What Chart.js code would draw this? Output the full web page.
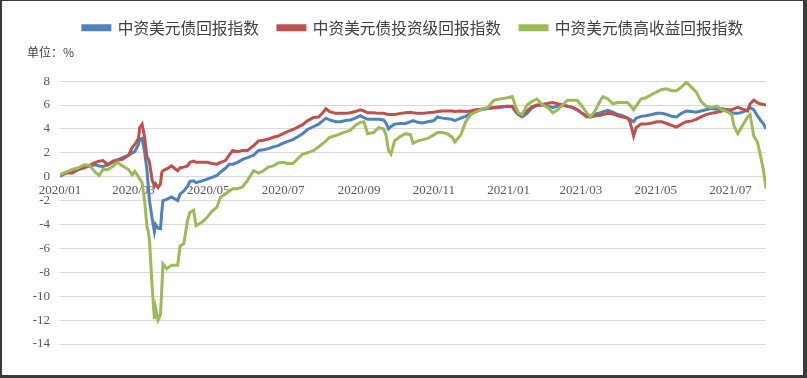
<!DOCTYPE html>
<html>
<head>
<meta charset="utf-8">
<script src="https://cdn.jsdelivr.net/npm/chart.js@4.4.1/dist/chart.umd.min.js"></script>
<style>
  html, body { margin: 0; padding: 0; background: #fff; }
  #wrap { position: relative; width: 807px; height: 378px; }
  #frame { position: absolute; left: 0; top: 0; width: 807px; height: 378px; box-sizing: border-box;
           border-left: 2px solid #3a3a3a; border-top: 1px solid #3a3a3a; border-bottom: 3px solid #3a3a3a; border-right: 4px solid #3a3a3a; pointer-events: none; }
</style>
</head>
<body>
<div id="wrap"><canvas id="c"></canvas><div id="frame"></div></div>
<script>
// days since 2020-01-01
const days = [0,5,10,15,20,24,29,32,35,39,43,47,51,56,59,61,64,65,67,69,71,72,73,75,77,78,80,82,83,84,87,91,96,98,101,104,106,109,111,116,120,124,128,131,135,138,141,145,149,153,158,162,166,170,174,178,182,186,190,194,198,202,207,211,214,217,220,225,229,233,237,241,245,248,251,256,260,264,266,268,270,273,278,282,286,288,292,296,300,305,308,312,316,320,322,327,331,335,339,343,349,354,359,365,369,372,374,377,381,385,389,394,398,402,406,410,414,418,422,426,430,433,437,441,443,447,451,455,459,463,465,468,470,474,478,483,487,491,495,499,503,507,511,515,519,523,527,531,536,540,544,548,550,553,557,561,563,566,569,571,574,576];

const seriesNames = ['中资美元债回报指数', '中资美元债投资级回报指数', '中资美元债高收益回报指数'];

const allIndex = [0.15,0.35,0.5,0.65,0.8,0.9,1.0,0.9,0.85,1.0,1.2,1.4,1.6,1.8,2.0,2.1,2.7,3.1,3.2,2.1,0.5,-0.8,-2.0,-3.4,-4.6,-4.0,-4.3,-4.35,-3.0,-2.0,-1.9,-1.7,-2.0,-1.45,-1.2,-0.8,-0.4,-0.35,-0.5,-0.35,-0.2,-0.05,0.1,0.4,0.7,1.05,1.05,1.2,1.45,1.6,1.8,2.2,2.25,2.35,2.5,2.6,2.8,2.95,3.1,3.35,3.6,3.95,4.2,4.4,4.65,4.9,4.75,4.6,4.6,4.7,4.75,4.9,5.1,4.95,4.8,4.8,4.8,4.75,4.5,4.0,4.2,4.4,4.45,4.45,4.6,4.7,4.55,4.5,4.6,4.7,5.0,4.9,4.85,4.8,4.7,4.9,5.05,5.3,5.45,5.6,5.7,5.75,5.8,5.9,5.85,5.4,5.2,5.0,5.3,5.75,5.95,6.0,5.9,5.8,5.9,6.0,5.9,5.8,5.6,5.3,5.0,5.05,5.25,5.35,5.45,5.55,5.4,5.2,5.1,4.9,4.8,4.6,4.9,5.05,5.1,5.2,5.3,5.3,5.2,5.05,5.0,5.3,5.5,5.45,5.4,5.5,5.6,5.7,5.65,5.7,5.6,5.35,5.3,5.3,5.4,5.6,5.8,5.6,5.1,4.8,4.4,4.0];

const invGrade = [0.05,0.3,0.3,0.6,0.75,0.95,1.2,1.3,1.35,1.0,1.3,1.4,1.45,1.8,2.45,2.7,3.2,4.1,4.4,3.3,1.6,1.5,1.2,-0.2,-0.8,-0.6,-0.9,-0.6,0.35,0.5,0.65,0.9,0.5,0.75,0.8,0.9,1.2,1.3,1.2,1.2,1.2,1.1,1.05,1.2,1.35,1.8,2.2,2.1,2.2,2.2,2.6,3.0,3.05,3.15,3.3,3.4,3.6,3.8,3.95,4.15,4.35,4.7,4.95,5.0,5.3,5.7,5.45,5.3,5.3,5.3,5.35,5.45,5.6,5.5,5.35,5.35,5.3,5.3,5.25,5.2,5.2,5.2,5.3,5.35,5.4,5.35,5.3,5.3,5.35,5.4,5.45,5.5,5.5,5.5,5.45,5.5,5.45,5.5,5.6,5.65,5.75,5.8,5.85,5.9,5.9,5.5,5.25,5.15,5.5,5.85,6.0,6.05,6.15,6.2,6.1,6.0,5.9,5.8,5.6,5.3,5.05,5.0,5.1,5.15,5.2,5.3,5.25,5.1,5.0,4.9,4.6,3.4,4.1,4.4,4.4,4.5,4.6,4.6,4.45,4.3,4.15,4.4,4.6,4.65,4.8,5.0,5.2,5.3,5.4,5.5,5.6,5.6,5.7,5.8,5.65,5.5,6.1,6.4,6.2,6.1,6.05,6.0];

const highYield = [0.15,0.4,0.6,0.75,1.0,0.95,0.35,0.1,0.6,0.6,0.85,1.2,0.9,0.6,0.15,0.45,0.0,-0.2,-0.5,-2.0,-4.2,-4.6,-5.3,-8.9,-11.9,-11.0,-12.0,-11.5,-9.5,-7.3,-7.7,-7.4,-7.4,-5.8,-5.6,-3.7,-3.0,-2.8,-4.1,-3.8,-3.4,-2.9,-2.55,-1.7,-1.45,-1.2,-1.0,-1.0,-0.85,-0.3,0.5,0.3,0.5,0.8,0.9,1.15,1.2,1.1,1.1,1.5,1.9,2.0,2.2,2.5,2.75,3.0,3.3,3.45,3.6,3.75,3.9,4.3,4.55,4.6,3.6,3.7,4.1,4.0,3.5,2.2,1.9,3.0,3.4,3.6,3.5,2.8,3.0,3.1,3.2,3.5,3.7,3.7,3.6,3.3,2.9,3.5,4.6,5.2,5.4,5.6,5.8,6.4,6.5,6.6,6.7,5.8,5.35,5.2,6.0,6.3,6.5,6.0,5.8,5.35,5.6,6.0,6.4,6.4,6.4,5.9,5.3,5.0,5.6,6.4,6.7,6.5,6.1,6.2,6.2,6.2,6.0,5.6,5.9,6.5,6.6,6.9,7.1,7.3,7.35,7.2,7.2,7.5,7.9,7.5,7.1,6.3,5.9,5.8,5.9,5.6,5.45,5.2,4.2,3.6,4.3,5.0,5.2,3.4,2.9,2.0,0.5,-1.0];

const tickDays = [0, 60, 121, 182, 244, 305, 366, 425, 486, 547];
const tickLabels = ['2020/01','2020/03','2020/05','2020/07','2020/09','2020/11','2021/01','2021/03','2021/05','2021/07'];
const yTicks = [8, 6, 4, 2, 0, -2, -4, -6, -8, -10, -12, -14];

const colors = ['#4F81BD', '#C0504D', '#9BBB59'];
const seriesValues = [allIndex, invGrade, highYield];

const datasets = seriesValues.map((vals, i) => ({
  label: seriesNames[i],
  data: days.map((d, k) => ({ x: d, y: vals[k] })),
  borderColor: colors[i],
  backgroundColor: colors[i],
  borderWidth: 3,
  pointRadius: 0,
  tension: 0,
  order: 3 - i
}));

new Chart(document.getElementById('c'), {
  type: 'line',
  data: { datasets },
  options: {
    responsive: true,
    maintainAspectRatio: false,
    animation: false,
    layout: { padding: { left: 27, right: 41, top: 1, bottom: 34 } },
    plugins: {
      legend: {
        position: 'top',
        fullSize: false,
        weight: 3000,
        labels: {
          sort: (a, b) => a.datasetIndex - b.datasetIndex,
          boxWidth: 27,
          boxHeight: 4,
          padding: 19,
          color: '#404040',
          font: { family: '"Noto Sans CJK SC"', size: 15.7 }
        }
      },
      title: {
        display: true,
        text: '单位：%',
        align: 'start',
        fullSize: true,
        weight: 500,
        color: '#404040',
        font: { family: '"Noto Sans CJK SC"', size: 12, weight: 'normal' },
        padding: { top: 0, bottom: 21 }
      },
      tooltip: { enabled: false }
    },
    scales: {
      x: {
        type: 'linear',
        min: 0,
        max: 576,
        position: { y: 0 },
        grid: { display: false, drawTicks: false },
        border: { display: false },
        afterBuildTicks: (scale) => { scale.ticks = tickDays.map(v => ({ value: v })); },
        ticks: {
          autoSkip: false,
          maxRotation: 0,
          padding: 6,
          color: '#595959',
          font: { family: '"Liberation Serif"', size: 13 },
          callback: (v) => { const i = tickDays.indexOf(v); return i >= 0 ? tickLabels[i] : ''; }
        }
      },
      y: {
        min: -14,
        max: 8,
        afterFit: (scale) => { scale.width = 33; },
        afterBuildTicks: (scale) => { scale.ticks = yTicks.map(v => ({ value: v })); },
        grid: { color: '#D9D9D9', lineWidth: 1, drawTicks: false },
        border: { display: false },
        ticks: {
          padding: 10,
          color: '#595959',
          font: { family: '"Liberation Serif"', size: 13 }
        }
      }
    }
  }
});
</script>
</body>
</html>
